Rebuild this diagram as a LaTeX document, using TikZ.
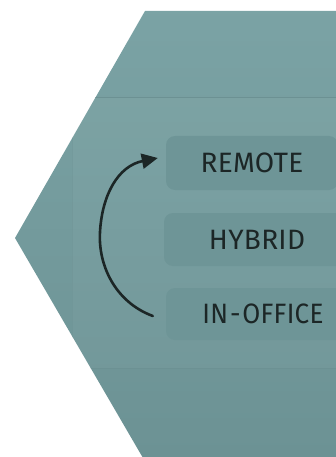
\documentclass[tikz,border=0pt]{standalone}
\usepackage{fontspec}
\newfontfamily\hand[LetterSpace=1]{Fira Sans}
\usetikzlibrary{arrows.meta}
\definecolor{hextop}{HTML}{7BA3A5}
\definecolor{hexbot}{HTML}{6C9294}
\definecolor{boxcol}{HTML}{6E9597}
\definecolor{inkcol}{HTML}{1C2626}
\definecolor{foldcol}{HTML}{6C9193}
\tikzset{
  optbox/.style={fill=boxcol, rounded corners=9pt, inner sep=0pt, text=inkcol,
    font=\hand\fontsize{28}{32}\selectfont},
  flow/.style={draw=inkcol, line width=2.6pt, line cap=round,
    -{Triangle[length=16pt,width=15pt]}},
  fold/.style={draw=foldcol, line width=0.9pt}
}
\begin{document}
\begin{tikzpicture}[x=1pt,y=-1pt]
\useasboundingbox (0,0) rectangle (335,457);
\begin{scope}
\clip (145,11) -- (336,11) -- (336,458) -- (143,458) -- (15,238) -- cycle;
\shade[top color=hextop, bottom color=hexbot] (0,0) rectangle (336,458);
\fill[white, opacity=0.03] (72,97) rectangle (340,368);
\draw[fold] (0,97) -- (340,97);
\draw[fold] (0,368) -- (340,368);
\draw[draw=foldcol, line width=0.5pt, opacity=0.4] (72,97) -- (72,368);
\node[optbox, minimum width=172pt, minimum height=54pt] (remote) at (252,163) {REMOTE};
\node[optbox, minimum width=186pt, minimum height=53pt] (hybrid) at (257,239.5) {HYBRID};
\node[optbox, minimum width=194pt, minimum height=52pt] (inoffice) at (263,314) {\scalebox{0.93}[1]{IN\kern2pt-\kern2pt OFFICE}};
\draw[flow] ([xshift=-13pt,yshift=-2pt]inoffice.west) .. controls (115,302) and (98,265) .. (100,232)
  .. controls (102,195) and (118,166) .. ([xshift=-8pt,yshift=5pt]remote.west);
\end{scope}
\end{tikzpicture}
\end{document}
